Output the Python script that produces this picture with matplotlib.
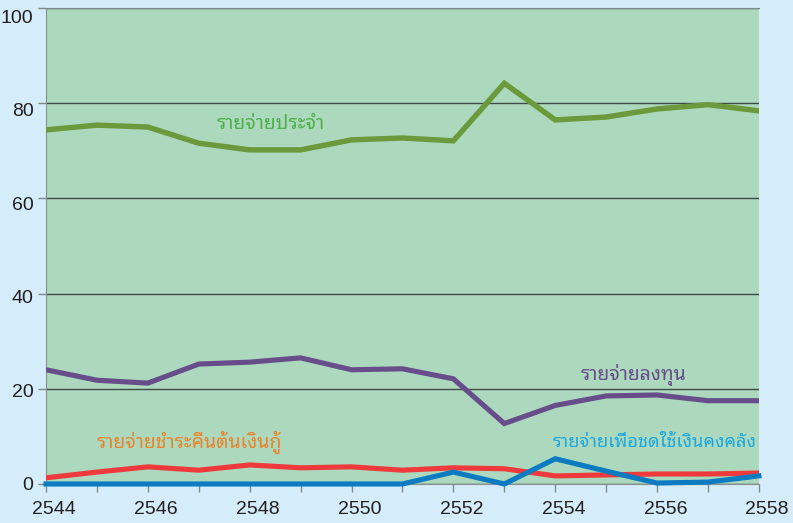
import matplotlib
matplotlib.use("Agg")
import matplotlib.pyplot as plt
import matplotlib.transforms as mtransforms

# Data
years = [2544, 2545, 2546, 2547, 2548, 2549, 2550, 2551, 2552, 2553, 2554, 2555, 2556, 2557, 2558]
recurrent = [74.4, 75.4, 75.0, 71.6, 70.2, 70.2, 72.3, 72.7, 72.1, 84.2, 76.5, 77.1, 78.8, 79.7, 78.4]
investment = [24.0, 21.8, 21.2, 25.2, 25.6, 26.5, 24.0, 24.2, 22.1, 12.7, 16.5, 18.5, 18.7, 17.5, 17.5]
loan_repay = [1.3, 2.5, 3.6, 2.9, 4.0, 3.4, 3.6, 2.9, 3.4, 3.2, 1.7, 1.9, 2.1, 2.1, 2.3]
treasury = [0.0, 0.0, 0.0, 0.0, 0.0, 0.0, 0.0, 0.0, 2.5, 0.0, 5.3, 2.7, 0.2, 0.4, 1.7]

labels = ["รายจ่ายประจำ", "รายจ่ายลงทุน", "รายจ่ายชำระคืนต้นเงินกู้", "รายจ่ายเพื่อชดใช้เงินคงคลัง"]
yticks = [0, 20, 40, 60, 80, 100]
xticks = [2544, 2546, 2548, 2550, 2552, 2554, 2556, 2558]

thai = ["Noto Sans Thai Looped", "Noto Sans Thai", "DejaVu Sans"]
plt.rcParams['font.family'] = ["Liberation Sans", "DejaVu Sans"]

fig = plt.figure(figsize=(7.93, 5.23), dpi=100, facecolor='#d5ecfa')
ax = fig.add_axes([0.058, 0.0746, 0.899, 0.910])
ax.set_facecolor('#acd9bd')

ax.plot(years, recurrent, color='#6a9a3b', lw=3.9, solid_joinstyle='miter', zorder=4)
ax.plot(years, investment, color='#674e8a', lw=3.7, solid_joinstyle='miter', zorder=4)
ax.plot(years, loan_repay, color='#ee3a3d', lw=3.7, solid_joinstyle='miter', zorder=4)
ax.plot(years, treasury, color='#0c7bc1', lw=3.7, solid_joinstyle='miter', zorder=5, clip_on=False)

ax.set_xlim(2544, 2558)
ax.set_ylim(0, 100)
ax.set_yticks(yticks)
ax.set_xticks(range(2544, 2559))
ax.set_xticklabels([str(y) if y in xticks else "" for y in range(2544, 2559)])
ax.grid(axis='y', color='#3e4a44', lw=1.0)
ax.set_axisbelow(True)

ax.spines['right'].set_visible(False)
ax.spines['top'].set_color('#7f8a8a')
ax.spines['left'].set_color('#8a9090')
ax.spines['bottom'].set_color('#8a9090')
ax.tick_params(axis='both', colors='#7f8a8a', labelcolor='#231f20', labelsize=14, length=6, width=1)
ax.tick_params(axis='x', pad=6)
ax.tick_params(axis='y', pad=3)

# tick labels sit a little right of / below the ticks in the original
off = mtransforms.ScaledTranslation(6 / 72, 0, fig.dpi_scale_trans)
for t in ax.get_xticklabels():
    t.set_transform(t.get_transform() + off)
for v, t in zip(yticks, ax.get_yticklabels()):
    offy = mtransforms.ScaledTranslation(0, -(v / 100 * 6) / 72, fig.dpi_scale_trans)
    t.set_transform(t.get_transform() + offy)

ax.text(2547.35, 75.6, labels[0], color='#4fb04a', fontsize=14, family=thai, va='center', ha='left')
ax.text(2554.5, 23.0, labels[1], color='#674e8a', fontsize=14, family=thai, va='center', ha='left')
ax.text(2545.0, 8.8, labels[2], color='#e8852c', fontsize=14, family=thai, va='center', ha='left')
ax.text(2553.95, 8.8, labels[3], color='#1ea7e1', fontsize=13.1, family=thai, va='center', ha='left')

fig.savefig("out.png", dpi=100, facecolor=fig.get_facecolor())
